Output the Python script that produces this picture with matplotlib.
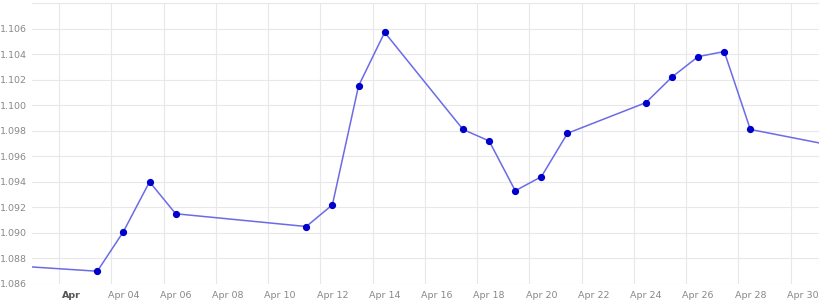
import numpy as np
import pandas as pd
import matplotlib
matplotlib.use("Agg")
import matplotlib.pyplot as plt
import matplotlib.dates as mdates

# daily rate
dates = pd.to_datetime(["2023-03-31", "2023-04-03", "2023-04-04", "2023-04-05", "2023-04-06",
                        "2023-04-11", "2023-04-12", "2023-04-13", "2023-04-14",
                        "2023-04-17", "2023-04-18", "2023-04-19", "2023-04-20", "2023-04-21",
                        "2023-04-24", "2023-04-25", "2023-04-26", "2023-04-27", "2023-04-28",
                        "2023-05-01"])
rate = [1.0874, 1.0870, 1.0901, 1.0940, 1.0915,
        1.0905, 1.0922, 1.1015, 1.1057,
        1.0981, 1.0972, 1.0933, 1.0944, 1.0978,
        1.1002, 1.1022, 1.1038, 1.1042, 1.0981,
        1.0969]

tick_dates = pd.date_range("2023-04-02", "2023-04-30", freq="2D")
tick_labels = ["Apr"] + [d.strftime("%b %d") for d in tick_dates[1:]]
yticks = np.arange(1.086, 1.1061, 0.002)

plt.rcParams['font.family'] = ['DejaVu Sans']

fig = plt.figure(figsize=(8.2, 3.03), dpi=100)
ax = fig.add_axes([32/820, 19/303, 1 - 32/820, 281/303])

ax.plot(dates, rate, color='#6b6be6', lw=1.1, zorder=3)
ax.plot(dates[1:-1], rate[1:-1], 'o', color='#0000cc', ms=4.2, zorder=4)

ax.set_xlim(pd.Timestamp("2023-04-03") - pd.Timedelta(hours=60),
            pd.Timestamp("2023-04-28") + pd.Timedelta(hours=64))
ax.set_ylim(1.086, 1.108)

# labels sit on the dates, grid lines a bit before them
ax.set_xticks(tick_dates)
ax.set_xticklabels(tick_labels)
ax.set_xticks(tick_dates - pd.Timedelta(hours=11), minor=True)
ax.set_yticks(yticks)
ax.set_yticklabels(["%.3f" % v for v in yticks])

ax.grid(which='minor', axis='x', color='#e8e8e8', lw=0.8)
ax.grid(which='major', axis='y', color='#e8e8e8', lw=0.8)
ax.grid(which='major', axis='x', visible=False)
ax.tick_params(which='both', length=0)
ax.tick_params(axis='x', labelsize=6.8, colors='#888888', pad=5)
ax.tick_params(axis='y', labelsize=6.8, colors='#888888', pad=4)
lbl = ax.get_xticklabels()[0]
lbl.set_fontweight('bold')
lbl.set_color('#555555')

for s in ['left', 'right', 'bottom']:
    ax.spines[s].set_visible(False)
ax.spines['top'].set_color('#e8e8e8')
ax.spines['top'].set_linewidth(0.8)

fig.savefig("out.png", dpi=100)
